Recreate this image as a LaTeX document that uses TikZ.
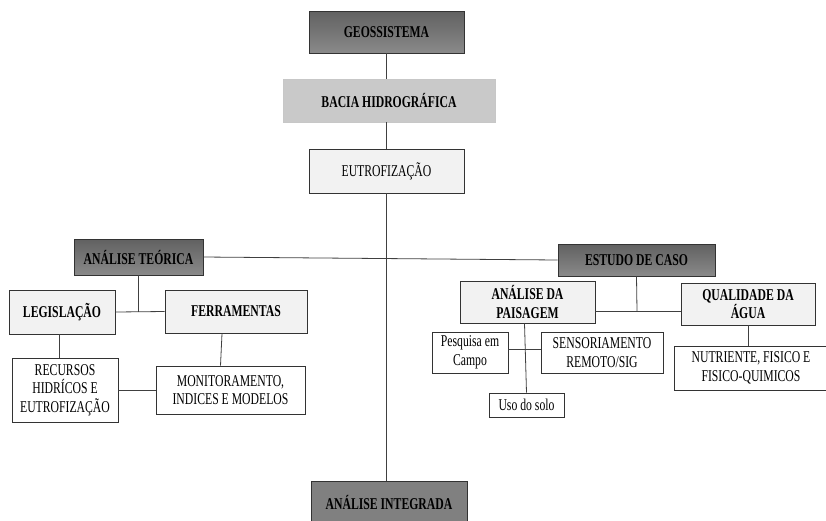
\documentclass[tikz,border=0pt]{standalone}
\usepackage{fontspec}
\setmainfont{Liberation Serif}[FakeStretch=0.71]
\usetikzlibrary{positioning}

\begin{document}
\begin{tikzpicture}[x=1pt, y=-1pt, line width=0.9pt]
   \tikzstyle{every node} = [draw=black!80, inner sep=0pt, align=center, font=\fontsize{16.5}{18.5}\selectfont];
   \tikzstyle{headbox} = [top color=black!62, bottom color=black!46, font=\fontsize{16.5}{18.5}\selectfont\bfseries];
   \tikzstyle{basinbox} = [draw=black!22, fill=black!21, font=\fontsize{16.5}{18.5}\selectfont\bfseries];
   \tikzstyle{subbox} = [fill=black!5, font=\fontsize{16.5}{18.5}\selectfont\bfseries];
   \tikzstyle{leafbox} = [fill=white];
   \tikzstyle{link} = [draw=black!75, line width=0.8pt];
   \useasboundingbox (0,0) rectangle (826,520);
   % eixo central
   \node[headbox, minimum width=155, minimum height=42] (geo) at (386.5,32) {GEOSSISTEMA};
   \node[basinbox, minimum width=212, minimum height=43] (bacia) at (389,100.5) {BACIA HIDROGRÁFICA};
   \node[leafbox, fill=black!5, minimum width=155, minimum height=44] (eutro) at (386.5,171) {EUTROFIZAÇÃO};
   \node[draw=black!80, fill=black!50, font=\fontsize{16.5}{18.5}\selectfont\bfseries,
         minimum width=156, minimum height=42] (integ) at (389,502) {ANÁLISE INTEGRADA};
   % lado teorico
   \node[headbox, minimum width=129, minimum height=36] (teor) at (138.5,257) {ANÁLISE TEÓRICA};
   \node[subbox, minimum width=106, minimum height=44] (legis) at (62,312) {LEGISLAÇÃO};
   \node[subbox, minimum width=142, minimum height=43] (ferr) at (236,311.5) {FERRAMENTAS};
   \node[leafbox, minimum width=106, minimum height=64] (recur) at (65,390) {RECURSOS\\HIDRÍCOS E\\EUTROFIZAÇÃO};
   \node[leafbox, minimum width=149, minimum height=48] (monit) at (230.5,390) {MONITORAMENTO,\\INDICES E MODELOS};
   % estudo de caso
   \node[headbox, minimum width=157, minimum height=32] (caso) at (636.5,260) {ESTUDO DE CASO};
   \node[subbox, minimum width=135, minimum height=42] (pais) at (527.5,302) {ANÁLISE DA\\PAISAGEM};
   \node[subbox, minimum width=134, minimum height=42] (qual) at (748,304) {QUALIDADE DA\\ÁGUA};
   \node[leafbox, minimum width=76, minimum height=41] (pesq) at (470,352.5) {Pesquisa em\\Campo};
   \node[leafbox, minimum width=122, minimum height=41] (sens) at (602,352.5) {SENSORIAMENTO\\REMOTO/SIG};
   \node[leafbox, minimum width=75, minimum height=24] (uso) at (526.5,405) {Uso do solo};
   \node[leafbox, minimum width=154, minimum height=44] (nutr) at (751,368) {NUTRIENTE, FISICO E\\FISICO-QUIMICOS};
   \coordinate (jt) at (teor.south |- legis.east);
   \coordinate (jc) at (637,311);
   % ligacoes
   \path[link] (geo.south) -- (geo.south |- bacia.north);
   \path[link] (geo.south |- bacia.south) -- (geo.south |- eutro.north);
   \path[link] (eutro.south) -- (eutro.south |- integ.north);
   \path[link] (teor.east) -- (caso.west);
   \path[link] (teor.south) -- (jt);
   \path[link] (legis.east) -- (ferr.west);
   \path[link] ([xshift=-3]legis.south) -- ([xshift=-3]legis.south |- recur.north);
   \path[link] (recur.east) -- (monit.west);
   \path[link] ([xshift=-14]ferr.south) -- ([xshift=-10]monit.north);
   \path[link] (caso.south) -- (jc);
   \path[link] (pais.east |- jc) -- (qual.west |- jc);
   \path[link] ([yshift=3]pesq.east) -- ([yshift=3]sens.west);
   \path[link] ([xshift=-3]pais.south) -- (uso.north);
   \path[link] (qual.south) -- (qual.south |- nutr.north);
\end{tikzpicture}
\end{document}
